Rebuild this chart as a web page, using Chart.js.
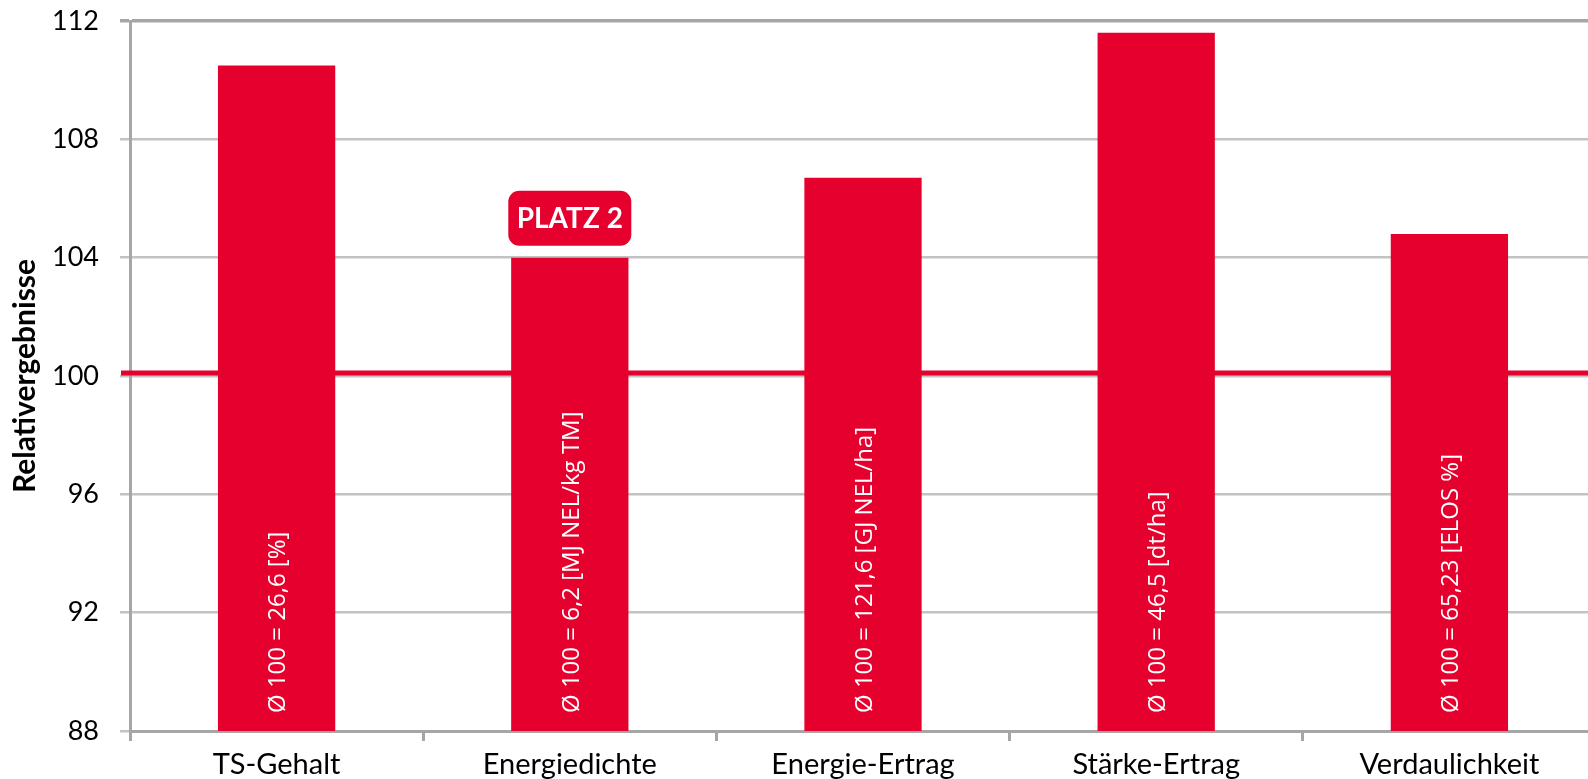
<!DOCTYPE html>
<html>
<head>
<meta charset="utf-8">
<script src="https://cdn.jsdelivr.net/npm/chart.js@4/dist/chart.umd.min.js"></script>
<style>
    html, body { margin: 0; padding: 0; background: #fff; overflow: hidden; }
    .chart-box { width: 1610px; height: 779px; }
</style>
</head>
<body>
<div class="chart-box"><canvas id="chart"></canvas></div>
<script>
// data
const categories = ['TS-Gehalt', 'Energiedichte', 'Energie-Ertrag', 'Stärke-Ertrag', 'Verdaulichkeit'];
const relValues = [110.5, 104.0, 106.7, 111.6, 104.8];
const baseNotes = [
    'Ø 100 = 26,6 [%]',
    'Ø 100 = 6,2 [MJ NEL/kg TM]',
    'Ø 100 = 121,6 [GJ NEL/ha]',
    'Ø 100 = 46,5 [dt/ha]',
    'Ø 100 = 65,23 [ELOS %]'
];
const yTicks = [88, 92, 96, 100, 104, 108, 112];
const referenceLine = 100;
const badgeIndex = 1;
const badgeText = 'PLATZ 2';

const red = '#e5002d';
const axisGrey = '#a6a6a6';
const gridGrey = '#c3c3c3';

const barExtras = {
    id: 'barExtras',
    afterDatasetsDraw(chart) {
        const ctx = chart.ctx;
        const area = chart.chartArea;
        const y = chart.scales.y;
        const bars = chart.getDatasetMeta(0).data;
        const bottom = y.getPixelForValue(y.min);

        // reference line at 100
        const ly = y.getPixelForValue(referenceLine) - 3;
        ctx.save();
        ctx.strokeStyle = red;
        ctx.lineWidth = 5;
        ctx.beginPath();
        ctx.moveTo(area.left - 9, ly);
        ctx.lineTo(area.right, ly);
        ctx.stroke();
        ctx.restore();

        // rotated notes inside the bars
        bars.forEach((bar, i) => {
            ctx.save();
            ctx.fillStyle = '#ffffff';
            ctx.font = '24px "Open Sans", sans-serif';
            ctx.textAlign = 'left';
            ctx.textBaseline = 'middle';
            ctx.translate(bar.x + 2, bottom - 18);
            ctx.rotate(-Math.PI / 2);
            ctx.fillText(baseNotes[i], 0, 0);
            ctx.restore();
        });

        // badge above one bar
        const b = bars[badgeIndex];
        const w = 123, h = 55, r = 11;
        const bx = b.x - w / 2, by = b.y - 12 - h;
        ctx.save();
        ctx.fillStyle = red;
        ctx.beginPath();
        ctx.roundRect(bx, by, w, h, r);
        ctx.fill();
        ctx.fillStyle = '#fff';
        ctx.font = 'bold 28px Lato';
        ctx.textAlign = 'center';
        ctx.textBaseline = 'middle';
        ctx.fillText(badgeText, b.x, by + h / 2 + 1);
        ctx.restore();
    }
};

new Chart(document.getElementById('chart'), {
    type: 'bar',
    data: {
        labels: categories,
        datasets: [{
            data: relValues,
            backgroundColor: red,
            borderWidth: 0,
            barPercentage: 0.4,
            categoryPercentage: 1.0
        }]
    },
    options: {
        responsive: true,
        maintainAspectRatio: false,
        animation: false,
        layout: { padding: { top: 21, right: 14, left: 0, bottom: 0 } },
        plugins: {
            legend: { display: false },
            tooltip: { enabled: false }
        },
        scales: {
            x: {
                grid: {
                    offset: true,
                    drawOnChartArea: false,
                    drawTicks: true,
                    tickLength: 10,
                    color: axisGrey,
                    lineWidth: 3
                },
                border: { display: true, color: axisGrey, width: 3 },
                ticks: {
                    color: '#000',
                    font: { family: 'Lato', size: 29 },
                    padding: 6,
                    maxRotation: 0
                },
                afterFit(scale) {
                    scale.height = 48;
                    scale.paddingLeft = 0;
                    scale.paddingRight = 0;
                }
            },
            y: {
                min: 88,
                max: 112,
                afterBuildTicks(scale) {
                    scale.ticks = yTicks.map(v => ({ value: v }));
                },
                grid: {
                    color: c => (c.tick && c.tick.value === 112 ? axisGrey : gridGrey),
                    lineWidth: c => (c.tick && c.tick.value === 112 ? 3.5 : 2.5),
                    drawTicks: true,
                    tickLength: 10
                },
                border: { display: true, color: axisGrey, width: 3 },
                ticks: {
                    color: '#000',
                    font: { family: 'Lato', size: 27 },
                    padding: 21
                },
                title: {
                    display: true,
                    text: 'Relativergebnisse',
                    color: '#000',
                    font: { family: 'Lato', size: 30, weight: 'bold' },
                    padding: { top: 7, bottom: 0 }
                },
                afterFit(scale) {
                    scale.width = 130;
                    scale.paddingTop = 0;
                    scale.paddingBottom = 0;
                }
            }
        }
    },
    plugins: [barExtras]
});
</script>
</body>
</html>
